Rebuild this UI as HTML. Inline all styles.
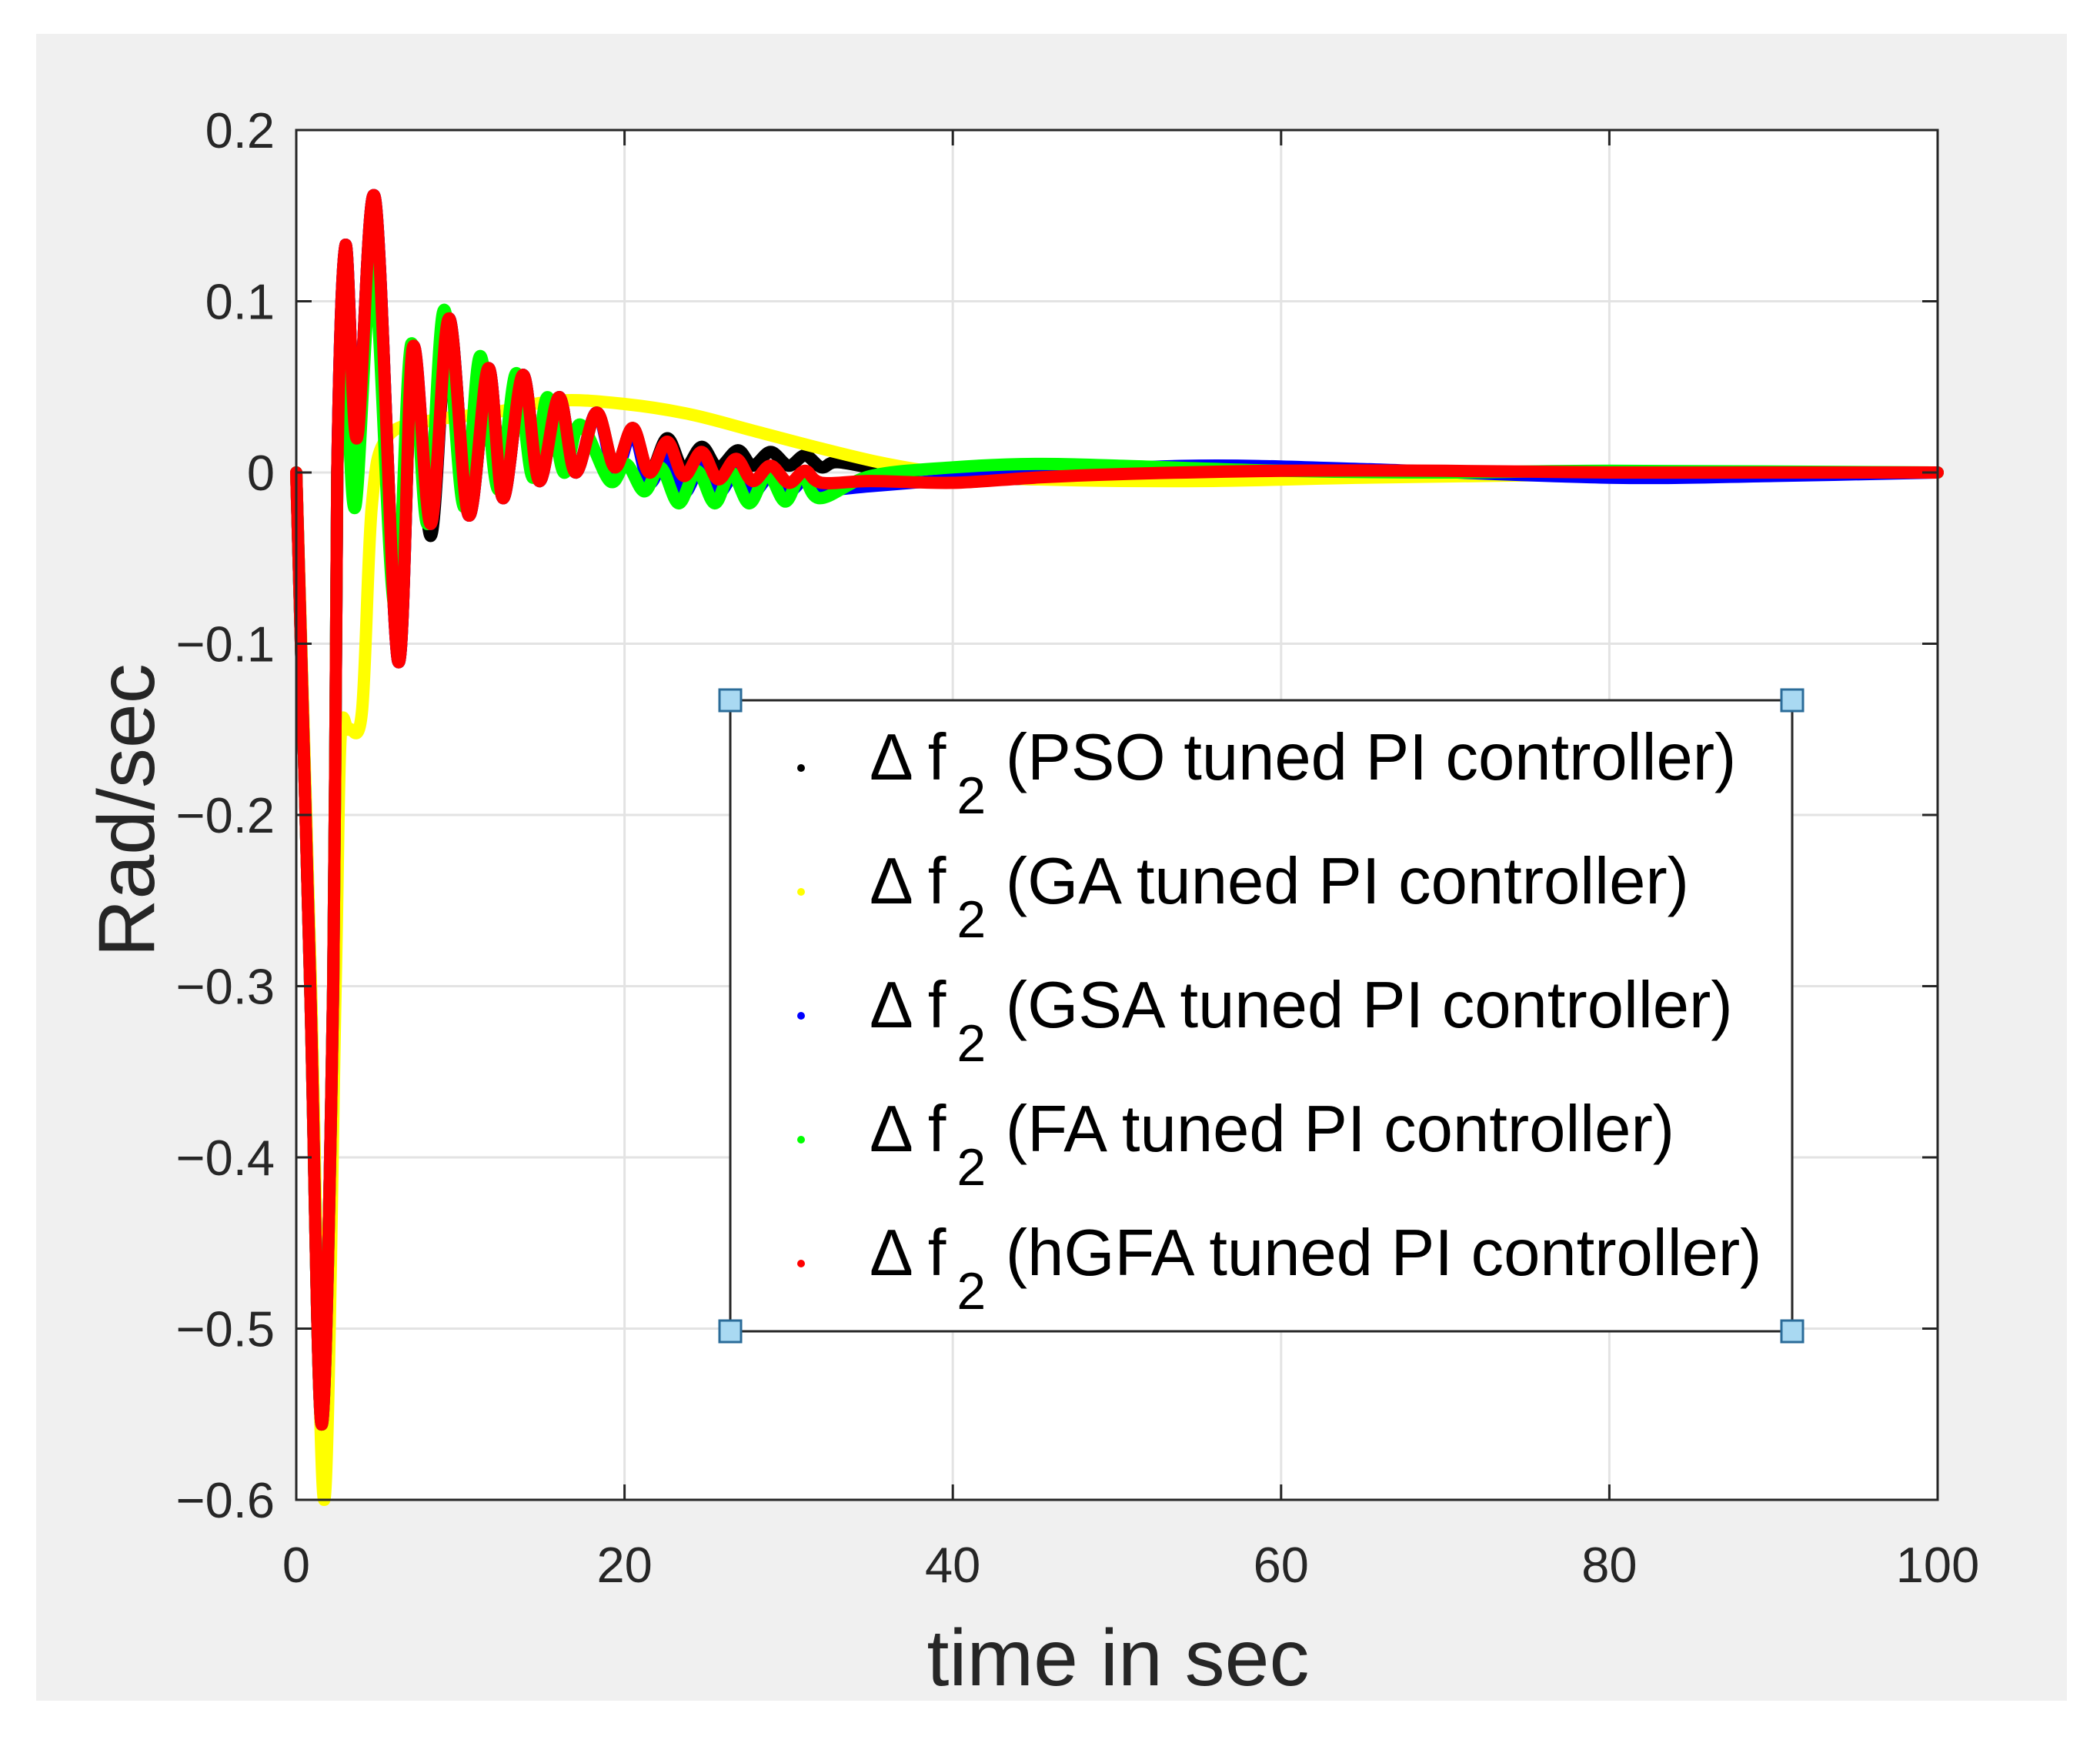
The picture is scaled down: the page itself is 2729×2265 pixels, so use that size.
<!DOCTYPE html>
<html><head><meta charset="utf-8"><style>
html,body{margin:0;padding:0;background:#fff;}
svg{display:block;font-family:"Liberation Sans",Arial,sans-serif;}
</style></head><body>
<svg id="chart" width="2729" height="2265" viewBox="0 0 2729 2265" xmlns="http://www.w3.org/2000/svg">
<rect x="47" y="44" width="2639" height="2166" fill="#f0f0f0"/>
<rect x="385" y="169" width="2133" height="1780" fill="#fff"/>
<g id="grid"></g>
<g id="series"></g>
<g id="axes"></g>
<text x="1453" y="2190" font-size="104" text-anchor="middle" fill="#262626">time in sec</text>
<text transform="translate(200,1053) rotate(-90)" font-size="104" text-anchor="middle" fill="#262626">Rad/sec</text>
<g id="legend"></g>
</svg>
<script>
const xTicks=[0,20,40,60,80,100];
const yTicks=[0.2,0.1,0,-0.1,-0.2,-0.3,-0.4,-0.5,-0.6];
const yTickLabels=["0.2","0.1","0","\u22120.1","\u22120.2","\u22120.3","\u22120.4","\u22120.5","\u22120.6"];
const seriesNames=["PSO","GA","GSA","FA","hGFA"];
const seriesColors=["#000000","#ffff00","#0000ff","#00ff00","#ff0000"];

const psoT=[0,0.85,1.55,2.25,2.5,3.0,3.7,4.8,6.2,7.1,8.2,9.3,10.5,11.7,12.6,13.8,14.8,16.0,17.0,18.3,19.4,20.5,21.5,22.6,23.6,24.7,25.7,26.9,27.8,28.9,30,31,32,33,36,40,50,60,80,100];
const psoV=[0,-0.3,-0.556,-0.3,0,0.133,0.02,0.16,-0.11,0.073,-0.037,0.09,-0.025,0.061,-0.015,0.057,-0.005,0.044,0.0,0.035,0.003,0.026,0.0,0.02,0.002,0.015,0.003,0.013,0.004,0.012,0.004,0.01,0.003,0.006,0.001,-0.003,-0.004,-0.002,0,0];

const gaT=[0,0.9,1.7,2.4,2.7,3.2,4.0,4.6,5.5,8,12,16,20,24,28,32,36,40,45,55,65,80,100];
const gaV=[0,-0.3,-0.6,-0.3,-0.155,-0.15,-0.14,-0.02,0.02,0.03,0.035,0.042,0.04,0.034,0.024,0.014,0.005,-0.001,-0.004,-0.005,-0.003,-0.001,0];

const gsaT=[0,0.85,1.55,2.25,2.5,3.0,3.7,4.8,6.2,7.1,8.2,9.3,10.5,11.7,12.6,13.8,14.8,16.0,17.0,18.3,19.4,20.5,21.5,22.6,23.6,24.7,25.7,26.8,27.8,28.9,30,31,32,35,40,45,55,65,80,90,100];
const gsaV=[0,-0.3,-0.556,-0.3,0,0.133,0.02,0.16,-0.11,0.073,-0.03,0.09,-0.025,0.061,-0.015,0.057,-0.005,0.044,0.0,0.035,0.0,0.024,-0.006,0.01,-0.012,0.004,-0.012,0.0,-0.012,-0.002,-0.011,-0.004,-0.01,-0.008,-0.004,0.0,0.004,0.002,-0.003,-0.002,0];

const faT=[0,0.85,1.55,2.25,2.5,3.0,3.6,4.7,6.0,7.0,8.0,9.0,10.2,11.2,12.3,13.4,14.4,15.3,16.3,17.3,19.1,20.1,21.2,22.2,23.3,24.4,25.5,26.5,27.6,28.7,29.8,30.8,31.9,35,40,45,50,60,70,80,100];
const faV=[0,-0.3,-0.556,-0.3,0,0.06,-0.02,0.12,-0.08,0.075,-0.03,0.095,-0.02,0.068,-0.01,0.058,-0.003,0.044,0.0,0.028,-0.005,0.005,-0.011,0.003,-0.018,0.001,-0.018,0.0,-0.018,-0.001,-0.017,-0.001,-0.015,-0.002,0.003,0.005,0.004,0.001,0.0,0.001,0];

const hgfaT=[0,0.85,1.55,2.25,2.5,3.0,3.7,4.8,6.2,7.1,8.2,9.3,10.5,11.7,12.6,13.8,14.8,16.0,17.0,18.3,19.4,20.5,21.5,22.6,23.6,24.7,25.7,26.8,27.8,28.9,30,31,32,35,40,45,50,60,70,80,90,100];
const hgfaV=[0,-0.3,-0.556,-0.3,0,0.133,0.02,0.16,-0.11,0.073,-0.03,0.09,-0.025,0.061,-0.015,0.057,-0.005,0.044,0.0,0.035,0.003,0.026,0.0,0.018,-0.002,0.012,-0.004,0.008,-0.005,0.004,-0.006,0.001,-0.006,-0.005,-0.006,-0.003,-0.001,0.001,0.001,0,0,0];

const seriesT=[psoT,gaT,gsaT,faT,hgfaT];
const seriesV=[psoV,gaV,gsaV,faV,hgfaV];

const X0=385,X1=2518,Y0=169,Y1=1949;
const xMin=0,xMax=100,yMin=-0.6,yMax=0.2;
function xs(t){return X0+(t-xMin)/(xMax-xMin)*(X1-X0);}
function ys(v){return Y1-(v-yMin)/(yMax-yMin)*(Y1-Y0);}
const NS="http://www.w3.org/2000/svg";
function mk(tag,attrs,parent){const e=document.createElementNS(NS,tag);for(const k in attrs)e.setAttribute(k,attrs[k]);parent.appendChild(e);return e;}

const grid=document.getElementById('grid'),axes=document.getElementById('axes');
xTicks.forEach((t,i)=>{
  const g=mk('line',{x1:xs(t),x2:xs(t),y1:Y0,y2:Y1,stroke:'#e3e3e3','stroke-width':3},grid);
  
  
  const a=mk('line',{x1:xs(t),x2:xs(t),y1:Y1,y2:Y1-20,stroke:'#262626','stroke-width':3},axes);
  
  
  const b=mk('line',{x1:xs(t),x2:xs(t),y1:Y0,y2:Y0+20,stroke:'#262626','stroke-width':3},axes);
  
  
  const tx=mk('text',{x:xs(t),y:2056,'font-size':65,'text-anchor':'middle',fill:'#262626'},axes);
  
  
  tx.textContent=String(t);
});
yTicks.forEach((v,i)=>{
  const g=mk('line',{x1:X0,x2:X1,y1:ys(v),y2:ys(v),stroke:'#e3e3e3','stroke-width':3},grid);
  
  
  const a=mk('line',{x1:X0,x2:X0+20,y1:ys(v),y2:ys(v),stroke:'#262626','stroke-width':3},axes);
  
  
  const b=mk('line',{x1:X1,x2:X1-20,y1:ys(v),y2:ys(v),stroke:'#262626','stroke-width':3},axes);
  
  
  const tx=mk('text',{x:357,y:ys(v)+23,'font-size':65,'text-anchor':'end',fill:'#262626'},axes);
  
  
  tx.textContent=yTickLabels[i];
});
const box=mk('rect',{x:X0,y:Y0,width:X1-X0,height:Y1-Y0,fill:'none',stroke:'#262626','stroke-width':3},axes);



function pathFor(T,V){
  const P=T.map((t,i)=>[xs(t),ys(V[i])]);
  let d='M'+P[0][0].toFixed(1)+','+P[0][1].toFixed(1);
  for(let i=0;i<P.length-1;i++){
    const p0=P[Math.max(0,i-1)],p1=P[i],p2=P[i+1],p3=P[Math.min(P.length-1,i+2)];
    const c1=[p1[0]+(p2[0]-p0[0])/6,p1[1]+(p2[1]-p0[1])/6];
    const c2=[p2[0]-(p3[0]-p1[0])/6,p2[1]-(p3[1]-p1[1])/6];
    c1[0]=Math.min(Math.max(c1[0],p1[0]),p2[0]);c2[0]=Math.min(Math.max(c2[0],p1[0]),p2[0]);
    d+=' C'+c1[0].toFixed(1)+','+c1[1].toFixed(1)+' '+c2[0].toFixed(1)+','+c2[1].toFixed(1)+' '+p2[0].toFixed(1)+','+p2[1].toFixed(1);
  }
  return d;
}
const sg=document.getElementById('series');
seriesT.forEach((T,i)=>{
  const p=mk('path',{d:pathFor(T,seriesV[i]),fill:'none',stroke:seriesColors[i],'stroke-width':16,'stroke-linejoin':'round','stroke-linecap':'round'},sg);
  
  
});

const lg=document.getElementById('legend');
const LX0=949,LX1=2329,LY0=910,LY1=1730;
const lb=mk('rect',{x:LX0,y:LY0,width:LX1-LX0,height:LY1-LY0,fill:'#fff',stroke:'#262626','stroke-width':3},lg);


seriesNames.forEach((n,i)=>{
  const by=1013+i*161;
  const g=mk('g',{},lg);
  
  
  const c=mk('circle',{cx:1041,cy:by-15,r:5,fill:seriesColors[i]},g);
  
  
  const t=mk('text',{x:1130,y:by,'font-size':85,fill:'#000'},g);
  
  
  t.innerHTML='\u0394 f<tspan dx="14" dy="44" font-size="68">2</tspan><tspan dx="2" dy="-44"> ('+n+' tuned PI controller)</tspan>';
});
[[LX0,LY0],[LX1,LY0],[LX0,LY1],[LX1,LY1]].forEach(p=>{
  const h=mk('rect',{x:p[0]-14,y:p[1]-14,width:28,height:28,fill:'#a9d9f2',stroke:'#2b6c99','stroke-width':3},lg);
  
  
});
</script>
</body></html>
